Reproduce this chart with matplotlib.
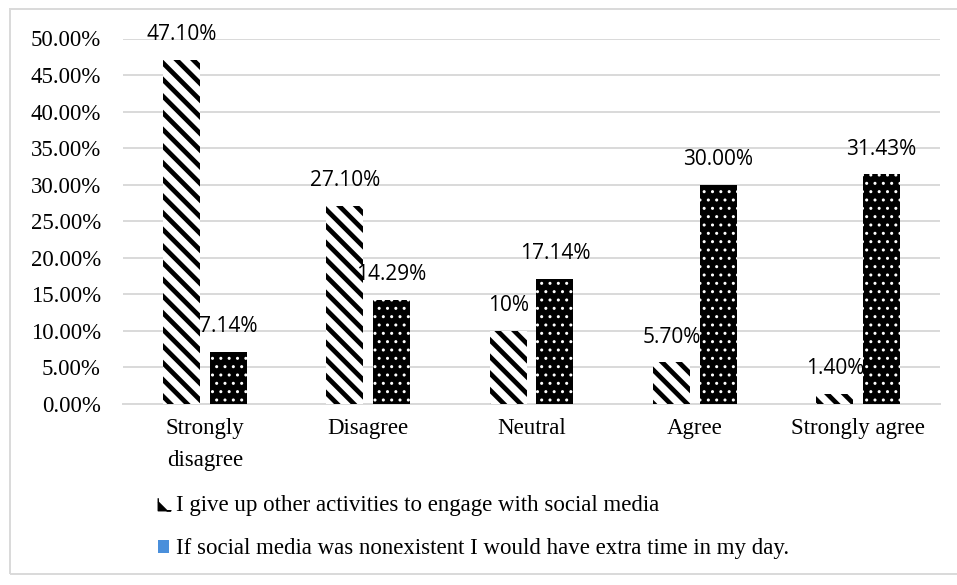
import matplotlib
matplotlib.use("Agg")
import matplotlib.pyplot as plt
from matplotlib.patches import Patch, Rectangle
from matplotlib.lines import Line2D
import numpy as np

categories = ["Strongly\ndisagree", "Disagree", "Neutral", "Agree", "Strongly agree"]
give_up = [47.10, 27.10, 10.0, 5.70, 1.40]
extra_time = [7.14, 14.29, 17.14, 30.00, 31.43]
give_up_labels = ["47.10%", "27.10%", "10%", "5.70%", "1.40%"]
extra_time_labels = ["7.14%", "14.29%", "17.14%", "30.00%", "31.43%"]
yticks = [0, 5, 10, 15, 20, 25, 30, 35, 40, 45, 50]
series_names = ["I give up other activities to engage with social media",
                "If social media was nonexistent I would have extra time in my day."]

W, H = 957, 585
fig = plt.figure(figsize=(W / 100, H / 100), dpi=100)
ax = fig.add_axes([123 / W, 1 - 404 / H, (940 - 123) / W, (404 - 38.5) / H])

x = np.arange(len(categories))
bw = 0.226
off = 0.143

plt.rcParams['hatch.linewidth'] = 3.4
b1 = ax.bar(x - off, give_up, bw, facecolor="white", edgecolor="black",
            hatch="\\\\", linewidth=0, zorder=3)
for p in b1:
    if hasattr(p, "set_hatch_linewidth"):
        p.set_hatch_linewidth(3.4)
plt.rcParams['hatch.linewidth'] = 1.0
b2 = ax.bar(x + off, extra_time, bw, facecolor="black", edgecolor="white",
            hatch="..", linewidth=0, zorder=3)
for p in b2:
    if hasattr(p, "set_hatch_linewidth"):
        p.set_hatch_linewidth(1.0)

label_font = dict(family="Open Sans", size=15, color="black")
for xi, v, t in zip(x - off, give_up, give_up_labels):
    ax.annotate(t, (xi, v), xytext=(0, 18), textcoords="offset points",
                ha="center", va="center", zorder=5, **label_font)
for xi, v, t in zip(x + off, extra_time, extra_time_labels):
    ax.annotate(t, (xi, v), xytext=(0, 18), textcoords="offset points",
                ha="center", va="center", zorder=5, **label_font)

ax.set_xlim(-0.5, len(categories) - 0.5)
ax.set_ylim(0, 50)
ax.set_yticks(yticks)
ax.set_yticklabels([f"{v:.2f}%" for v in yticks], family="Liberation Serif", fontsize=16.5)
ax.set_xticks(x)
ax.set_xticklabels(categories, family="Liberation Serif", fontsize=16.5, linespacing=1.7)
for lab in ax.get_xticklabels():
    lab.set_verticalalignment("top")
ax.tick_params(axis="both", length=0)
ax.tick_params(axis="y", pad=16)
ax.tick_params(axis="x", pad=10)
ax.grid(axis="y", color="#D9D9D9", linewidth=1.4, zorder=0)
ax.set_axisbelow(True)
for s in ["top", "right", "left"]:
    ax.spines[s].set_visible(False)
ax.spines["bottom"].set_color("#D9D9D9")
ax.spines["bottom"].set_linewidth(1.4)

# outer chart border
fig.add_artist(Rectangle((10 / W, 1 - 574 / H), (W + 5 - 10) / W, (574 - 9) / H,
                         transform=fig.transFigure, fill=False,
                         edgecolor="#D9D9D9", linewidth=1.4, clip_on=False))

h1 = Line2D([], [], linestyle="none",
            marker=[(-1, 1), (-1, -1), (1, -1), (0.4, -1), (-1, 0.4)],
            markersize=9, color="black")
h2 = Patch(facecolor="#4A8FDB", edgecolor="none")
leg = fig.legend([h1, h2], series_names, loc="upper left",
                 bbox_to_anchor=(158 / W, 1 - 495 / H), frameon=False,
                 prop=dict(family="Liberation Serif", size=16.5),
                 handlelength=0.5, handleheight=0.5, handletextpad=0.3,
                 labelspacing=0.97, borderpad=0, borderaxespad=0)

fig.savefig("out.png", dpi=100)
